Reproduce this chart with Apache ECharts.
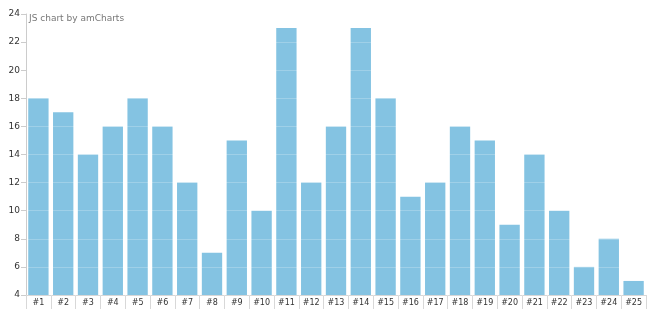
<!DOCTYPE html>
<html><head><meta charset="utf-8">
<script src="https://cdn.jsdelivr.net/npm/echarts@6/dist/echarts.min.js"></script>
<style>html,body{margin:0;padding:0;background:#fff}#c{width:658px;height:313px}</style>
</head><body><div id="c"></div>
<script>
var categories = ['#1','#2','#3','#4','#5','#6','#7','#8','#9','#10','#11','#12','#13','#14','#15','#16','#17','#18','#19','#20','#21','#22','#23','#24','#25'];
var values = [18,17,14,16,18,16,12,7,15,10,23,12,16,23,18,11,12,16,15,9,14,10,6,8,5];
var chart = echarts.init(document.getElementById('c'), null, {renderer:'canvas'});
chart.setOption({
  animation:false,
  backgroundColor:'#fff',
  textStyle:{fontFamily:'DejaVu Sans'},
  title:{text:'JS chart by amCharts', left:29, top:14, padding:0, textStyle:{fontSize:9, fontWeight:'normal', color:'#777', fontFamily:'DejaVu Sans'}},
  grid:{left:26, right:12, top:14, bottom:18},
  xAxis:{type:'category', data:categories,
    axisLine:{lineStyle:{color:'#ccc'}},
    axisTick:{show:true, length:14, lineStyle:{color:'#d8d8d8'}},
    axisLabel:{fontSize:8, color:'#333', margin:4, fontFamily:'DejaVu Sans'}},
  yAxis:{type:'value', min:4, max:24, interval:2, z:3,
    axisLine:{show:true, lineStyle:{color:'#ccc'}},
    axisTick:{show:true, length:5, lineStyle:{color:'#ccc'}},
    axisLabel:{fontSize:9, color:'#333', margin:6, fontFamily:'DejaVu Sans'},
    splitLine:{lineStyle:{color:'rgba(255,255,255,0.22)'}}},
  series:[{type:'bar', data:values, barCategoryGap:'18%', itemStyle:{color:'#84c3e2'}}]
});
</script></body></html>
